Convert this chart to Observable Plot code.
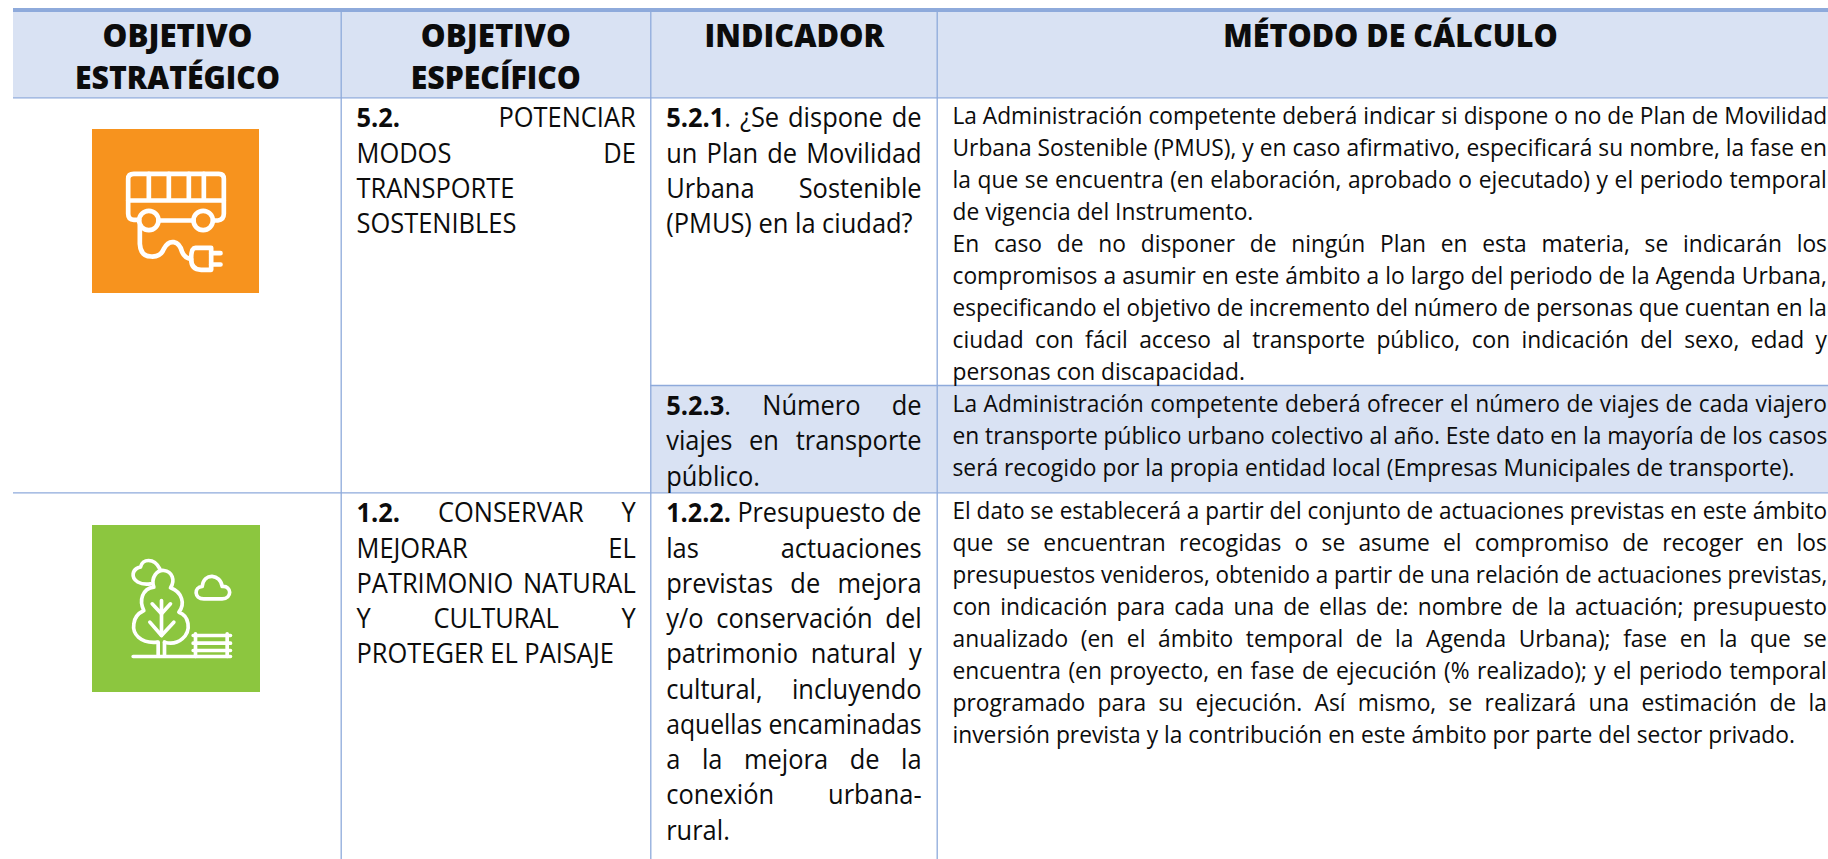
<!DOCTYPE html>
<html lang="es">
<head>
<meta charset="utf-8">
<title>Objetivos e indicadores</title>
<script src="https://cdn.jsdelivr.net/npm/d3@7"></script>
<script src="https://cdn.jsdelivr.net/npm/@observablehq/plot@0.6"></script>
<style>
html,body{margin:0;padding:0;background:#fff;}
svg{display:block;}
</style>
</head>
<body>
<div id="chart"></div>
<script>
// ---- Text content ----
const headers = [
  ["OBJETIVO", "ESTRATÉGICO"],
  ["OBJETIVO", "ESPECÍFICO"],
  ["INDICADOR"],
  ["MÉTODO DE CÁLCULO"]
];
const especifico52 = ["5.2. POTENCIAR", "MODOS DE", "TRANSPORTE", "SOSTENIBLES"];
const especifico12 = ["1.2. CONSERVAR Y", "MEJORAR EL", "PATRIMONIO NATURAL", "Y CULTURAL Y", "PROTEGER EL PAISAJE"];
const indicador521 = ["5.2.1. ¿Se dispone de", "un Plan de Movilidad", "Urbana Sostenible", "(PMUS) en la ciudad?"];
const indicador523 = ["5.2.3. Número de", "viajes en transporte", "público."];
const indicador122 = ["1.2.2. Presupuesto de", "las actuaciones", "previstas de mejora", "y/o conservación del", "patrimonio natural y", "cultural, incluyendo", "aquellas encaminadas", "a la mejora de la", "conexión urbana-", "rural."];
const metodo521 = [
  "La Administración competente deberá indicar si dispone o no de Plan de Movilidad",
  "Urbana Sostenible (PMUS), y en caso afirmativo, especificará su nombre, la fase en",
  "la que se encuentra (en elaboración, aprobado o ejecutado) y el periodo temporal",
  "de vigencia del Instrumento."
];
const metodo521b = [
  "En caso de no disponer de ningún Plan en esta materia, se indicarán los",
  "compromisos a asumir en este ámbito a lo largo del periodo de la Agenda Urbana,",
  "especificando el objetivo de incremento del número de personas que cuentan en la",
  "ciudad con fácil acceso al transporte público, con indicación del sexo, edad y",
  "personas con discapacidad."
];
const metodo523 = [
  "La Administración competente deberá ofrecer el número de viajes de cada viajero",
  "en transporte público urbano colectivo al año. Este dato en la mayoría de los casos",
  "será recogido por la propia entidad local (Empresas Municipales de transporte)."
];
const metodo122 = [
  "El dato se establecerá a partir del conjunto de actuaciones previstas en este ámbito",
  "que se encuentran recogidas o se asume el compromiso de recoger en los",
  "presupuestos venideros, obtenido a partir de una relación de actuaciones previstas,",
  "con indicación para cada una de ellas de: nombre de la actuación; presupuesto",
  "anualizado (en el ámbito temporal de la Agenda Urbana); fase en la que se",
  "encuentra (en proyecto, en fase de ejecución (% realizado); y el periodo temporal",
  "programado para su ejecución. Así mismo, se realizará una estimación de la",
  "inversión prevista y la contribución en este ámbito por parte del sector privado."
];
const boldLeads = ["5.2.1", "5.2.3", "1.2.2.", "5.2.", "1.2."];

// ---- Layout ----
const W = 1828, H = 859;
const INK = "#0c0c0c", LINE = "#8EAADB", BAND = "#D9E2F3";
const FONT = "'Open Sans', sans-serif";
const left = 13, colX = [340.7, 650.3, 936.7];
const rowY = [97.4, 385, 492.3];
const cells = [[356, 635.3], [665.7, 921.2], [952, 1827]];
const SIZE_NARROW = 26.5, STEP_NARROW = 35.25, TOP_NARROW = 29.5;
const SIZE_WIDE = 24, STEP_WIDE = 32, TOP_WIDE = 26;
const K_NARROW = 0.96, K_WIDE = 0.95;
const headCenters = [177, 495.3, 794, 1390];
const headWidths = [[150, 205], [150, 170], [180], [334.6]];
const HEAD_SIZE = 31, HEAD_TOP = 46.7, HEAD_STEP = 41.6;

function para(lines, cell, top, step, start = 0) {
  return lines.map((text, i) => ({
    text, x: cells[cell][0], right: cells[cell][1],
    y: rowY[top] + (cell === 2 ? TOP_WIDE : TOP_NARROW) + step * (start + i),
    justify: i < lines.length - 1
  }));
}
const narrowLines = [
  ...para(especifico52, 0, 0, STEP_NARROW),
  ...para(especifico12, 0, 2, STEP_NARROW),
  ...para(indicador521, 1, 0, STEP_NARROW),
  ...para(indicador523, 1, 1, STEP_NARROW),
  ...para(indicador122, 1, 2, STEP_NARROW)
];
const wideLines = [
  ...para(metodo521, 2, 0, STEP_WIDE),
  ...para(metodo521b, 2, 0, STEP_WIDE, metodo521.length),
  ...para(metodo523, 2, 1, STEP_WIDE),
  ...para(metodo122, 2, 2, STEP_WIDE)
];
const headerLines = headers.flatMap((ls, c) => ls.map((text, i) => ({
  text, x: headCenters[c], y: HEAD_TOP + i * HEAD_STEP, target: headWidths[c][i]
})));

// ---- Icons ----
const svgUri = (w, h, body) => "data:image/svg+xml;utf8," + encodeURIComponent(
  `<svg xmlns="http://www.w3.org/2000/svg" viewBox="0 0 ${w} ${h}" width="${w}" height="${h}"><defs><filter id="b"><feGaussianBlur stdDeviation="1.4"/></filter></defs><g filter="url(#b)" fill="none" stroke="#fff" stroke-linecap="round" stroke-linejoin="round" stroke-width="14">${body}</g></svg>`);
const busIcon = svgUri(600, 600, `
  <path d="M176 328 H160 Q143 328 143 310 V205 Q143 190 160 190 H415 Q430 190 430 205 V310 Q430 328 412 330 H398"/>
  <path d="M143 270 H430 M205 190 V270 M265 190 V270 M325 190 V270 M370 190 V270"/>
  <circle cx="205" cy="330" r="29"/><circle cx="368" cy="330" r="29"/>
  <path d="M234 330 H339"/>
  <path d="M178 345 V400 Q180 438 212 438 Q240 440 250 415 Q262 392 280 395 Q298 398 305 425 Q312 442 332 446"/>
  <path d="M345 412 H392 V478 H362 Q332 478 332 445 Q332 412 345 412 Z"/>
  <path d="M392 428 H420 M392 462 H420"/>`);
const parkIcon = svgUri(720, 660, `
  <g stroke-width="11">
  <path d="M218 468 H510 M293 465 V425 M312 465 V425 M303 300 V405"/>
  <path d="M275 310 L303 340 L330 310 M268 365 L303 405 L340 365"/>
  <path d="M290 425 C240 430 215 400 220 370 C222 345 240 335 250 330 C235 300 245 265 280 260 C270 230 290 208 310 210 C335 212 345 240 330 262 C365 275 375 310 355 335 C385 345 395 390 365 415 C350 428 330 430 312 425"/>
  <path d="M270 250 C240 255 215 240 218 220 C220 205 235 200 240 200 C245 175 280 170 298 205"/>
  <path d="M430 295 H485 C515 295 515 255 485 258 C480 220 430 215 425 258 C400 260 400 295 430 295 Z"/>
  <path d="M398 405 H510 M398 428 H510 M398 450 H510 M405 400 V468 M500 400 V468"/>
  </g>`);
const icons = [
  {x1: 92, x2: 259, y1: 129, y2: 293, color: "#F7931E", cx: 180, cy: 210, size: 200, src: busIcon},
  {x1: 92, x2: 260, y1: 525, y2: 692, color: "#8CC63F", cx: 180, cy: 610, size: 240, src: parkIcon}
];

// ---- Chart ----
const textOpts = {x: "x", y: "y", text: "text", fontFamily: FONT, fill: INK, lineAnchor: "bottom"};
const chart = Plot.plot({
  width: W, height: H,
  margin: 0,
  x: {domain: [0, W], range: [0, W], axis: null},
  y: {domain: [0, H], range: [0, H], axis: null},
  style: {background: "#fff"},
  marks: [
    Plot.rect([{x1: left, x2: W, y1: 8, y2: rowY[0]}], {x1: "x1", x2: "x2", y1: "y1", y2: "y2", fill: BAND}),
    Plot.rect([{x1: colX[1], x2: W, y1: rowY[1], y2: rowY[2]}], {x1: "x1", x2: "x2", y1: "y1", y2: "y2", fill: BAND}),
    Plot.rect([{x1: left, x2: W, y1: 8, y2: 12}], {x1: "x1", x2: "x2", y1: "y1", y2: "y2", fill: LINE}),
    Plot.ruleX(colX, {y1: 12, y2: H, stroke: LINE, strokeWidth: 1.3}),
    Plot.ruleY([rowY[0]], {x1: left, x2: W, stroke: LINE, strokeWidth: 1.3}),
    Plot.ruleY([rowY[1]], {x1: colX[1], x2: W, stroke: LINE, strokeWidth: 1.3}),
    Plot.ruleY([rowY[2]], {x1: left, x2: W, stroke: LINE, strokeWidth: 1.3}),
    Plot.rect(icons, {x1: "x1", x2: "x2", y1: "y1", y2: "y2", fill: "color"}),
    Plot.image(icons, {x: "cx", y: "cy", width: "size", height: "size", src: "src"}),
    Plot.text(headerLines, {...textOpts, textAnchor: "middle", fontSize: HEAD_SIZE, fontWeight: 800, className: "t-head"}),
    Plot.text(narrowLines, {...textOpts, textAnchor: "start", fontSize: SIZE_NARROW, className: "t-narrow"}),
    Plot.text(wideLines, {...textOpts, textAnchor: "start", fontSize: SIZE_WIDE, className: "t-wide"})
  ]
});
document.getElementById("chart").append(chart);

// ---- Justification: word-spacing and horizontal condensation of the substitute font ----
function fit(selector, rows, baseK) {
  const nodes = chart.querySelectorAll(`g.${selector} text, g[class~="${selector}"] text`);
  nodes.forEach((node, i) => {
    const row = rows[i];
    if (!row) return;
    let k = baseK;
    const lead = boldLeads.find(b => row.text.startsWith(b));
    if (lead && selector !== "t-head") {
      node.textContent = "";
      const a = document.createElementNS("http://www.w3.org/2000/svg", "tspan");
      a.setAttribute("font-weight", "700");
      a.textContent = lead;
      const b = document.createElementNS("http://www.w3.org/2000/svg", "tspan");
      b.textContent = row.text.slice(lead.length);
      node.append(a, b);
    }
    const natural = node.getComputedTextLength();
    if (row.target) k = row.target / natural;
    if (row.justify) {
      const gaps = row.text.split(" ").length - 1;
      const width = row.right - row.x;
      if (gaps > 0) {
        const spacing = (width / k - natural) / gaps;
        if (spacing < 0) k = width / natural;
        else node.style.wordSpacing = `${spacing}px`;
      }
    }
    const t = node.getAttribute("transform") || "";
    node.setAttribute("transform", `${t} scale(${k},1)`);
  });
}
fit("t-head", headerLines, 1);
fit("t-narrow", narrowLines, K_NARROW);
fit("t-wide", wideLines, K_WIDE);
</script>
</body>
</html>
